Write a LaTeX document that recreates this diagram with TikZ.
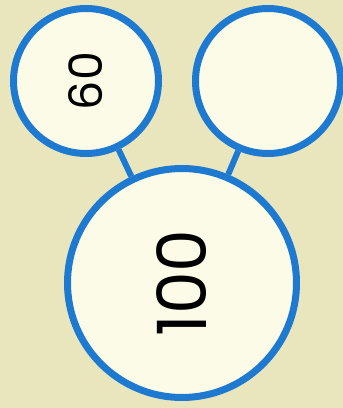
\documentclass[tikz,border=0pt]{standalone}
\usepackage{fontspec}
\setmainfont{Poppins}
\usepackage{xcolor}
\definecolor{pwblue}{HTML}{1E7AD0}
\definecolor{pwback}{HTML}{E9E6BE}
\definecolor{pwfill}{HTML}{FCFBE8}
\begin{document}
\begin{tikzpicture}[x=1pt,y=1pt,
    part/.style={circle,draw=pwblue,fill=pwfill,line width=7pt,inner sep=0pt,
      minimum size=145pt,rotate=90,font=\fontsize{46}{46}\selectfont},
    whole/.style={part,minimum size=229pt,font=\fontsize{68}{68}\selectfont},
    link/.style={pwblue,line width=6pt}]
    \fill[pwback] (0,0) rectangle (343,408);
    \useasboundingbox (0,0) rectangle (343,408);
    \node[part] (left) at (86,327) {60};
    \node[part] (right) at (268,327) {};
    \node[whole] (total) at (182,125) {100};
    \draw[link] (left)--(total); \draw[link] (right)--(total);
  \end{tikzpicture}
\end{document}
